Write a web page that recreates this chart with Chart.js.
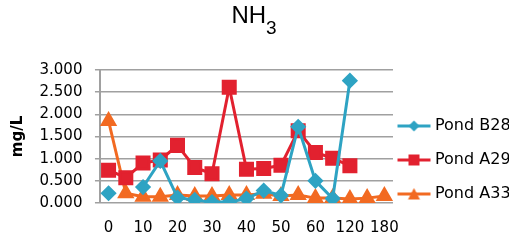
<!DOCTYPE html>
<html>
<head>
<meta charset="utf-8">
<script src="https://cdn.jsdelivr.net/npm/chart.js@4/dist/chart.umd.min.js"></script>
<style>
  html, body { margin: 0; padding: 0; background: #fff; }
  #wrap { position: relative; width: 519px; height: 244px; }
  #title {
    position: absolute; left: 0; top: 2px; width: 508px;
    text-align: center; font-family: 'Liberation Sans', Arial, sans-serif;
    font-size: 24px; line-height: 26px; color: #000;
  }
  #title sub { font-size: 19px; vertical-align: -11px; line-height: 0; }
</style>
</head>
<body>
<div id="wrap">
  <div id="title">NH<sub>3</sub></div>
  <canvas id="nh3-chart"></canvas>
</div>
<script>
// data
const days = ['0', '5', '10', '15', '20', '25', '30', '35', '40', '45', '50', '55', '60', '90', '120', '150', '180'];
const pondB28 = [0.22, null, 0.36, 0.95, 0.12, 0.07, 0.02, 0.02, 0.10, 0.28, 0.17, 1.72, 0.50, 0.10, 2.76, null, null];
const pondA29 = [0.74, 0.57, 0.90, 0.97, 1.30, 0.80, 0.66, 2.61, 0.76, 0.78, 0.85, 1.63, 1.14, 1.01, 0.84, null, null];
const pondA33 = [1.85, 0.22, 0.14, 0.14, 0.18, 0.16, 0.16, 0.18, 0.18, 0.21, 0.16, 0.18, 0.11, 0.11, 0.09, 0.11, 0.16];
const yTicks = { min: 0, max: 3, step: 0.5 };

const blue = '#2ea3c3';
const red = '#e2212f';
const orange = '#f26a22';

// little line + marker picture for the legend
function legendIcon(color, style) {
  const c = document.createElement('canvas');
  c.width = 35; c.height = 14;
  const g = c.getContext('2d');
  const m = 17.5;
  g.strokeStyle = color; g.fillStyle = color; g.lineWidth = 3;
  g.beginPath(); g.moveTo(1, 7); g.lineTo(34, 7); g.stroke();
  g.beginPath();
  if (style === 'rectRot') {
    g.moveTo(m, 1.5); g.lineTo(m + 5.5, 7); g.lineTo(m, 12.5); g.lineTo(m - 5.5, 7);
  } else if (style === 'rect') {
    g.rect(m - 5.5, 1.5, 11, 11);
  } else {
    g.moveTo(m, 1); g.lineTo(m + 6, 12.5); g.lineTo(m - 6, 12.5);
  }
  g.closePath(); g.fill();
  return c;
}

const icons = [legendIcon(blue, 'rectRot'), legendIcon(red, 'rect'), legendIcon(orange, 'triangle')];

// move the legend a bit to sit like the original
const legendNudge = {
    id: 'legendNudge',
    beforeDraw: function (chart) {
        const lg = chart.legend;
        lg.left -= 10; lg.right -= 10;
        lg.top += 3; lg.bottom += 3;
    }
};

const ctx = document.getElementById('nh3-chart').getContext('2d');
var chart = new Chart(ctx, {
    type: 'line',
    data: {
        labels: days,
        datasets: [
            {
                label: 'Pond B28',
                data: pondB28,
                borderColor: blue,
                backgroundColor: blue,
                borderWidth: 3,
                pointStyle: 'rectRot',
                pointRadius: 6,
                tension: 0,
            },
            {
                label: 'Pond A29',
                data: pondA29,
                borderColor: red,
                backgroundColor: red,
                borderWidth: 3,
                pointStyle: 'rect',
                pointRadius: 8.5,
                tension: 0,
            },
            {
                label: 'Pond A33',
                data: pondA33,
                borderColor: orange,
                backgroundColor: orange,
                borderWidth: 3,
                pointStyle: 'triangle',
                pointRadius: 7,
                tension: 0,
            },
        ],
    },
    plugins: [legendNudge],
    options: {
        responsive: true,
        maintainAspectRatio: false,
        animation: false,
        layout: { padding: { left: 0, right: 0, top: 70, bottom: 0 } },
        plugins: {
            title: { display: false },
            legend: {
                position: 'right',
                maxWidth: 126,
                labels: {
                    usePointStyle: true,
                    pointStyleWidth: 26,
                    padding: 18,
                    color: '#000',
                    font: { family: 'DejaVu Sans', size: 16 },
                    generateLabels: function (chart) {
                        const items = Chart.defaults.plugins.legend.labels.generateLabels(chart);
                        items.forEach(function (it, i) { it.pointStyle = icons[i]; });
                        return items;
                    }
                }
            },
            tooltip: { enabled: false },
        },
        scales: {
            x: {
                offset: true,
                grid: { display: false, drawTicks: false },
                border: { display: false },
                afterFit: function (scale) { scale.height = 41; },
                ticks: {
                    autoSkip: false,
                    maxRotation: 0,
                    padding: 16,
                    color: '#000',
                    font: { family: 'DejaVu Sans', size: 15 },
                    callback: function (value, index) {
                        return index % 2 === 0 ? days[index] : '';
                    }
                }
            },
            y: {
                min: yTicks.min,
                max: yTicks.max,
                title: {
                    display: true,
                    text: 'mg/L',
                    color: '#000',
                    font: { family: 'DejaVu Sans', size: 15, weight: 'bold' },
                    padding: { top: 9, bottom: 0 },
                },
                grid: { color: '#a0a0a0', lineWidth: 1.5, tickLength: 5 },
                border: { color: '#a0a0a0', width: 2 },
                ticks: {
                    autoSkip: false,
                    stepSize: yTicks.step,
                    padding: 12.5,
                    color: '#000',
                    font: { family: 'DejaVu Sans', size: 15 },
                    callback: function (value) {
                        return value.toFixed(3);
                    }
                }
            }
        },
    },
});
</script>
</body>
</html>
